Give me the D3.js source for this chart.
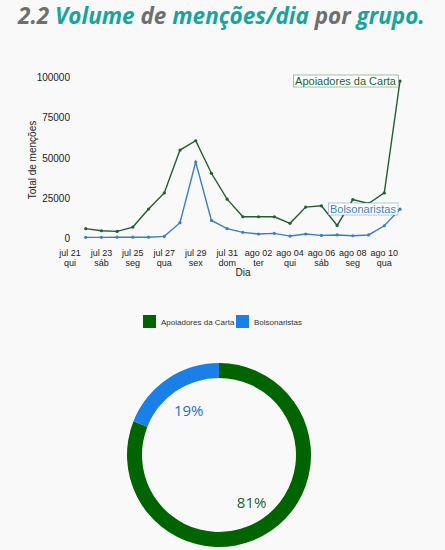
<!DOCTYPE html>
<html><head><meta charset="utf-8">
<script src="https://cdn.jsdelivr.net/npm/d3@7"></script>
<style>body{margin:0;background:#f9f9f9;}svg{display:block;font-family:"Liberation Sans",Arial,sans-serif;}</style>
</head><body><svg id="c" width="445" height="550"></svg>
<script>
const dates = ["2022-07-22","2022-07-23","2022-07-24","2022-07-25","2022-07-26","2022-07-27","2022-07-28","2022-07-29","2022-07-30","2022-07-31","2022-08-01","2022-08-02","2022-08-03","2022-08-04","2022-08-05","2022-08-06","2022-08-07","2022-08-08","2022-08-09","2022-08-10","2022-08-11"];
const apoiadores = [5800,4500,4100,6800,18000,28000,54600,60400,40200,24100,13200,13200,13200,9100,19200,20000,7800,23900,21400,28000,97500];
const bolsonaristas = [400,400,500,500,500,1000,9500,47200,10900,5800,3500,2500,2900,1200,2500,1600,1900,1400,1900,7600,17900];
const yTicks = [0,25000,50000,75000,100000];
const tickDates = ["2022-07-21","2022-07-23","2022-07-25","2022-07-27","2022-07-29","2022-07-31","2022-08-02","2022-08-04","2022-08-06","2022-08-08","2022-08-10"];
const tickLabels = [["jul 21","qui"],["jul 23","sáb"],["jul 25","seg"],["jul 27","qua"],["jul 29","sex"],["jul 31","dom"],["ago 02","ter"],["ago 04","qui"],["ago 06","sáb"],["ago 08","seg"],["ago 10","qua"]];
const groups = ["Apoiadores da Carta","Bolsonaristas"];
const shares = [81,19];
const colors = ["#006400","#1a7fe6"];
const lineColors = ["#1f5f2f","#3a7fc0"];

const svg = d3.select("#c");
const P = d3.timeParse("%Y-%m-%d");
const t = svg.append("text").attr("x",18).attr("y",24).attr("font-family","Open Sans").attr("font-weight","bold").attr("font-style","italic").attr("font-size",22.5);
[["2.2 ","#6e6e6e"],["Volume ","#1aa39a"],["de ","#6e6e6e"],["menções/dia ","#1aa39a"],["por ","#6e6e6e"],["grupo.","#1aa39a"]].forEach(([s,c])=>t.append("tspan").attr("fill",c).text(s));

const x = d3.scaleTime().domain([P("2022-07-21"),P("2022-08-11")]).range([70,400]);
const y = d3.scaleLinear().domain([0,100000]).range([238,77]);
const g = svg.append("g");
yTicks.forEach(v=>g.append("text").attr("x",70).attr("y",y(v)+4).attr("text-anchor","end").attr("font-size",10).attr("fill","#222").text(v));
tickDates.forEach((d,i)=>{
  const tx=g.append("text").attr("x",x(P(d))).attr("y",256).attr("text-anchor","middle").attr("font-size",9).attr("fill","#222");
  tx.append("tspan").attr("x",x(P(d))).text(tickLabels[i][0]);
  tx.append("tspan").attr("x",x(P(d))).attr("dy",9.5).text(tickLabels[i][1]);
});
g.append("text").attr("x",243).attr("y",276).attr("text-anchor","middle").attr("font-size",10).attr("fill","#222").text("Dia");
g.append("text").attr("transform","translate(36,160) rotate(-90)").attr("text-anchor","middle").attr("font-size",10).attr("fill","#222").text("Total de menções");

[apoiadores,bolsonaristas].forEach((s,k)=>{
  const pts = s.map((v,i)=>[x(P(dates[i])),y(v)]);
  g.append("path").attr("d",d3.line()(pts)).attr("fill","none").attr("stroke",lineColors[k]).attr("stroke-width",1.4);
  g.selectAll(null).data(pts).enter().append("circle").attr("cx",d=>d[0]).attr("cy",d=>d[1]).attr("r",1.6).attr("fill",lineColors[k]);
});
function lbl(txt,xr,yy,c){
  const te=g.append("text").attr("x",xr).attr("y",yy).attr("text-anchor","end").attr("font-size",11).attr("fill",c).text(txt);
  const b=te.node().getBBox();
  g.insert("rect",()=>te.node()).attr("x",b.x-1.5).attr("y",b.y).attr("width",b.width+3).attr("height",b.height).attr("fill","#fff").attr("stroke",c).attr("stroke-opacity",0.5).attr("stroke-width",0.8);
}
lbl(groups[0],396,85,lineColors[0]);
lbl(groups[1],396,213,lineColors[1]);

const lg=svg.append("g");
[[143,groups[0]],[236,groups[1]]].forEach(([lx,s],i)=>{
  lg.append("rect").attr("x",lx).attr("y",315).attr("width",13).attr("height",13).attr("fill",colors[i]);
  lg.append("text").attr("x",lx+18).attr("y",325).attr("font-size",8).attr("fill","#333").text(s);
});
const arc=d3.arc().innerRadius(77).outerRadius(92);
const dg=svg.append("g").attr("transform","translate(219,455)");
const pie2=d3.pie().sort(null).startAngle(0).endAngle(2*Math.PI)(shares);
dg.selectAll("path").data(pie2).enter().append("path").attr("d",arc).attr("fill",(d,i)=>colors[i]);
[[1,"19%"],[0,"81%"]].forEach(([i,s])=>{
  const c=d3.arc().innerRadius(i?54:58).outerRadius(i?54:58).centroid(pie2[i]);
  dg.append("text").attr("x",c[0]).attr("y",c[1]).attr("dy","0.35em").attr("text-anchor","middle").attr("font-family","Open Sans").attr("font-size",15).attr("fill",i?"#2a6fbf":"#1f5f2f").text(s);
});
</script></body></html>
